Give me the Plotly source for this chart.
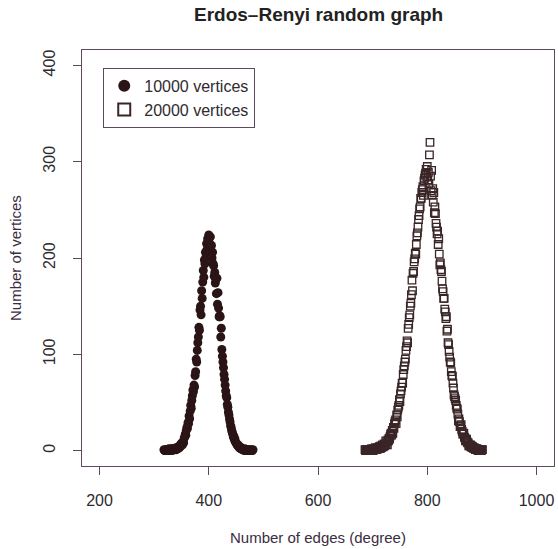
import plotly.graph_objects as go

# ---- data ----
title_text = "Erdos\u2013Renyi random graph"
x_title = "Number of edges (degree)"
y_title = "Number of vertices"
x_ticks = [200, 400, 600, 800, 1000]
y_ticks = [0, 100, 200, 300, 400]

# series 1: 10000 vertices, degree 318..481
degrees_10k = list(range(318, 482))
counts_10k = [
    1, 0, 0, 1, 0, 1, 0, 1, 0, 2, 1, 0, 1, 2, 1, 0, 2, 1, 2, 1,
    1, 2, 3, 1, 2, 3, 2, 4, 3, 5, 4, 7, 6,
    8, 6, 9, 8, 13, 14, 17, 16, 21, 24,
    23, 29, 28, 36, 33, 41, 47, 44, 52, 57,
    63, 61, 68, 66, 78, 82, 95, 92, 104, 112,
    118, 128, 125, 146, 150, 141, 166, 158, 175, 187,
    180, 198, 194, 206, 201, 215, 209, 220, 212, 224,
    216, 210, 222, 205, 213, 200, 206, 194, 192, 181,
    185, 174, 178, 163, 179, 152, 164, 148, 139, 140,
    139, 118, 127, 105, 98, 92, 86, 79, 74, 68,
    62, 57, 55, 48, 45, 40, 37, 33, 30, 26,
    24, 21, 19, 17, 14, 15, 11, 12, 9, 8,
    7, 6, 5, 6, 4, 3, 4, 2, 3, 2, 1, 2, 1, 1, 0, 2, 1, 0, 1, 0,
    1, 0, 1, 0, 0, 1, 0, 1, 0, 0, 1,
]

# series 2: 20000 vertices, degree 686..901
degrees_20k = list(range(686, 902))
counts_20k = [
    1, 0, 1, 0, 1, 0, 1, 0, 0, 1, 1, 0, 2, 1, 1, 0, 2, 1, 1, 3,
    1, 2, 1, 3, 2, 2, 4, 3, 2, 5, 3, 4, 6, 4, 5,
    7, 5, 6, 10, 7, 9, 6, 11, 10, 13,
    12, 15, 17, 18, 16, 21, 18, 24, 23, 28,
    30, 32, 28, 37, 35, 42, 45, 47, 53, 51,
    59, 62, 66, 70, 70, 79, 84, 88, 92, 95,
    104, 108, 114, 112, 127, 131, 138, 141, 150, 153,
    162, 177, 166, 184, 186, 196, 199, 205, 204, 214,
    223, 226, 232, 240, 244, 251, 253, 262, 262, 268,
    271, 274, 265, 280, 283, 286, 288, 292, 284, 295,
    281, 289, 277, 307, 320, 285, 270, 291, 265, 272,
    258, 268, 247, 253, 246, 236, 232, 225, 228, 214,
    220, 204, 193, 195, 188, 186, 176, 168, 165, 158,
    158, 147, 144, 137, 139, 124, 126, 112, 110, 103,
    97, 92, 91, 82, 78, 77, 70, 65, 58, 56,
    54, 52, 47, 44, 43, 38, 31, 33, 30, 25,
    26, 27, 22, 20, 17, 17, 18, 14, 13, 10,
    11, 12, 9, 8, 8, 5, 6, 5, 6, 4,
    5, 3, 4, 3, 2, 3, 2, 1, 2, 1,
    2, 1, 0, 1, 1, 0, 1, 0, 0, 1, 1,
]
assert len(degrees_10k) == len(counts_10k)
assert len(degrees_20k) == len(counts_20k)

series_names = ["10000 vertices", "20000 vertices"]

FONT = "Liberation Sans, Arial, Helvetica, sans-serif"
INK = "#2a1416"
AXC = "#5e4a5e"
TXT = "#2e2a30"

fig = go.Figure()
fig.add_trace(go.Scatter(
    x=degrees_10k, y=counts_10k, mode="markers", name=series_names[0],
    marker=dict(symbol="circle", size=9, color=INK, line=dict(width=0)),
))
fig.add_trace(go.Scatter(
    x=degrees_20k, y=counts_20k, mode="markers", name=series_names[1],
    marker=dict(symbol="square-open", size=7.5, color="#3a2527",
                line=dict(width=1.3, color="#3a2527")),
))

fig.update_layout(
    width=558, height=549,
    margin=dict(l=82, r=4, t=50, b=83),
    paper_bgcolor="white", plot_bgcolor="white",
    font=dict(family=FONT, size=16, color=TXT),
    showlegend=True,
    legend=dict(x=0.045, y=0.957, xanchor="left", yanchor="top",
                bgcolor="white", bordercolor=AXC, borderwidth=1,
                font=dict(size=16, color=TXT), tracegroupgap=0,
                itemsizing="constant"),
    annotations=[
        dict(text="<b>" + title_text + "</b>", xref="paper", yref="paper",
             x=0.5, y=1, yshift=36, xanchor="center", yanchor="middle",
             showarrow=False, font=dict(size=19, color="#222")),
        dict(text=x_title, xref="paper", yref="paper", x=0.5, y=0,
             yshift=-71, xanchor="center", yanchor="middle",
             showarrow=False, font=dict(size=15, color="#3a2d42")),
        dict(text=y_title, xref="paper", yref="paper", x=0, y=0.5,
             xshift=-67, xanchor="center", yanchor="middle", textangle=-90,
             showarrow=False, font=dict(size=15, color="#3a2d42")),
    ],
)
fig.update_xaxes(range=[168, 1032], tickvals=x_ticks, ticks="outside",
                 ticklen=8, tickwidth=1, tickcolor=AXC, showline=True,
                 linecolor=AXC, linewidth=1, mirror=True, showgrid=False,
                 zeroline=False, ticklabelstandoff=12,
                 tickfont=dict(size=16, color=TXT))
fig.update_yaxes(range=[-16, 416], tickvals=y_ticks, ticks="outside",
                 ticklen=8, tickwidth=1, tickcolor=AXC, showline=True,
                 linecolor=AXC, linewidth=1, mirror=True, showgrid=False,
                 zeroline=False, tickangle=-90, ticklabelstandoff=12,
                 tickfont=dict(size=16, color=TXT))

fig.write_html("out.html",
               config={"displayModeBar": False},
               post_script="document.body.style.margin='0';"
                           "document.body.style.overflow='hidden';")
